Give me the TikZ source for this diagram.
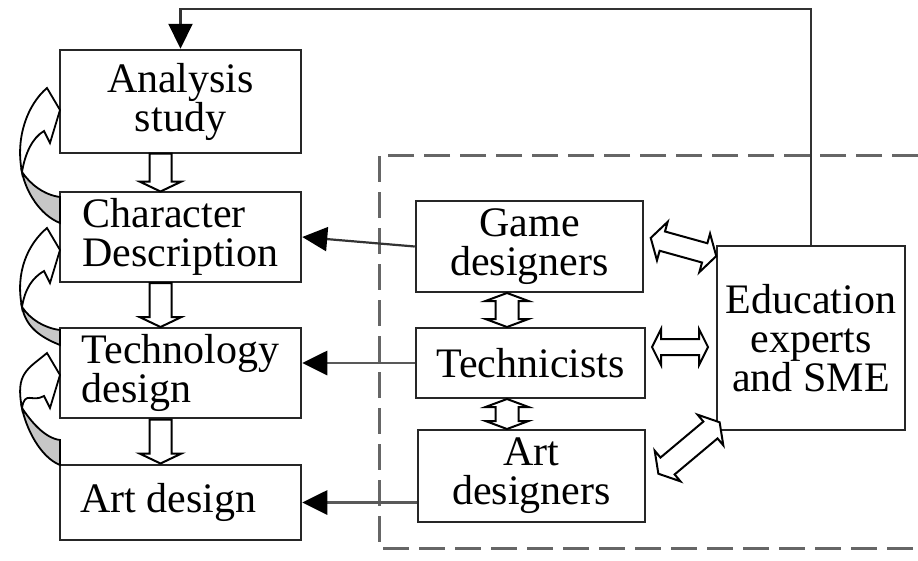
\documentclass[tikz,border=0pt]{standalone}
\usepackage{fontspec}
\setmainfont{Liberation Serif}
\usetikzlibrary{arrows.meta,calc}
\newcommand\hollowdbl[6]{\begin{scope}[shift={#1},rotate=#2]
 \draw[blk] (-#3,0) -- (-#3+#6,-#5) -- (-#3+#6,-#4) -- (#3-#6,-#4) -- (#3-#6,-#5) -- (#3,0) -- (#3-#6,#5) -- (#3-#6,#4) -- (-#3+#6,#4) -- (-#3+#6,#5) -- cycle;
\end{scope}}
\newcommand\hollowsgl[6]{\begin{scope}[shift={#1},rotate=#2]
 \draw[blk] (-#3,-#4) -- (#3-#6,-#4) -- (#3-#6,-#5) -- (#3,0) -- (#3-#6,#5) -- (#3-#6,#4) -- (-#3,#4) -- cycle;
\end{scope}}
\newcommand\curlarrow[4]{% #1 head offset, #2 P y, #3 gray top, #4 gray bottom
 \draw[backface] (22,#2) .. controls (30,#2+12) and (44,#3-2) .. (60,#3) -- (60,#4) .. controls (40,#4-8) and (26,#2+20) .. (22,#2) -- cycle;
 \draw[frontface] (22,#2) .. controls (15,#2-35) and (28,#1+104) .. (47,#1+88) -- (60,#1+110) -- (50,#1+143) -- (44,#1+131) .. controls (32,#1+138) and (25,#2-18) .. (22,#2) -- cycle;
}
\begin{document}
\begin{tikzpicture}[x=1pt,y=-1pt,
 box/.style={draw=black!85,line width=2.5pt,fill=white,inner sep=0pt,align=center,font=\fontsize{42}{39}\selectfont},
 lbox/.style={box,align=left},
 conn/.style={draw=black!80,line width=2.2pt,-{Triangle[length=25pt,width=24pt,color=black,fill=black]}},
 blk/.style={draw=black,fill=white,line width=2pt,line join=miter},
 frontface/.style={draw=black,fill=white,line width=1.8pt},
 backface/.style={draw=black,fill=black!22,line width=1.8pt},
 dashbox/.style={draw=black!60,line width=3pt,dash pattern=on 26pt off 10pt}]
\fill[white] (0,0) rectangle (918,560);
\useasboundingbox (0,0) rectangle (918,560);

% dashed region
\draw[dashbox] (918,155) -- (379,155) -- (379,548) -- (918,548);

% left column
\node[box,minimum width=241pt,minimum height=103pt] (analysis) at (180.5,101.5) {Analysis\\study};
\node[lbox,minimum width=241pt,minimum height=90pt] (character) at (180.5,237) {Character\\Description};
\node[lbox,minimum width=241pt,minimum height=90pt] (techdesign) at (180.5,373) {Technology\\design};
\node[lbox,minimum width=241pt,minimum height=75pt] (artdesign) at (180.5,502.5) {\makebox[201pt][l]{Art design}};

% middle column
\node[box,minimum width=227pt,minimum height=91pt] (game) at (529.5,246.5) {Game\\designers};
\node[box,minimum width=229pt,minimum height=70pt] (techn) at (530.5,363) {Technicists};
\node[box,minimum width=227pt,minimum height=92pt] (artd) at (531.5,476) {Art\\designers};

% right box
\node[box,minimum width=188pt,minimum height=184pt] (edu) at (811,338) {Education\\experts\\and SME};

% connectors
\draw[conn] (game.west) -- (character.east);
\draw[conn,draw=black!65,line width=2.8pt] (techn.west) -- (techn.west -| techdesign.east);
\draw[conn,draw=black!65,line width=2.8pt] (artdesign.east -| artd.west) -- (artdesign.east);
\draw[conn] (edu.north) |- ($(analysis.north)+(0,-40)$) -- (analysis.north);

% block arrows left column
\hollowsgl{($(analysis.south)!0.5!(character.north)+(-20,0)$)}{-90}{19}{11}{21}{10}
\hollowsgl{($(character.south)!0.5!(techdesign.north)+(-20,0)$)}{-90}{22}{11}{21}{10}
\hollowsgl{($(techdesign.south)!0.5!(artdesign.north)+(-20,0)$)}{-90}{22}{11}{21}{10}

% block arrows middle column
\hollowdbl{($(game.south)!0.5!(techn.north)+(-23,0)$)}{90}{17}{11.5}{21.5}{8}
\hollowdbl{($(techn.south)!0.5!(artd.north)+(-24,0)$)}{90}{15}{11.5}{21.5}{8}

% block arrows to education
\hollowdbl{(683.5,247)}{-15.5}{34}{10}{20}{12}
\hollowdbl{(680,347)}{0}{28}{8}{18}{9}
\hollowdbl{(689,448)}{40}{40}{11}{20}{12}

% curved feedback arrows
\curlarrow{0}{172}{197}{223}
\curlarrow{140}{307}{330}{345}
\curlarrow{265}{408}{440}{465}
\end{tikzpicture}
\end{document}
